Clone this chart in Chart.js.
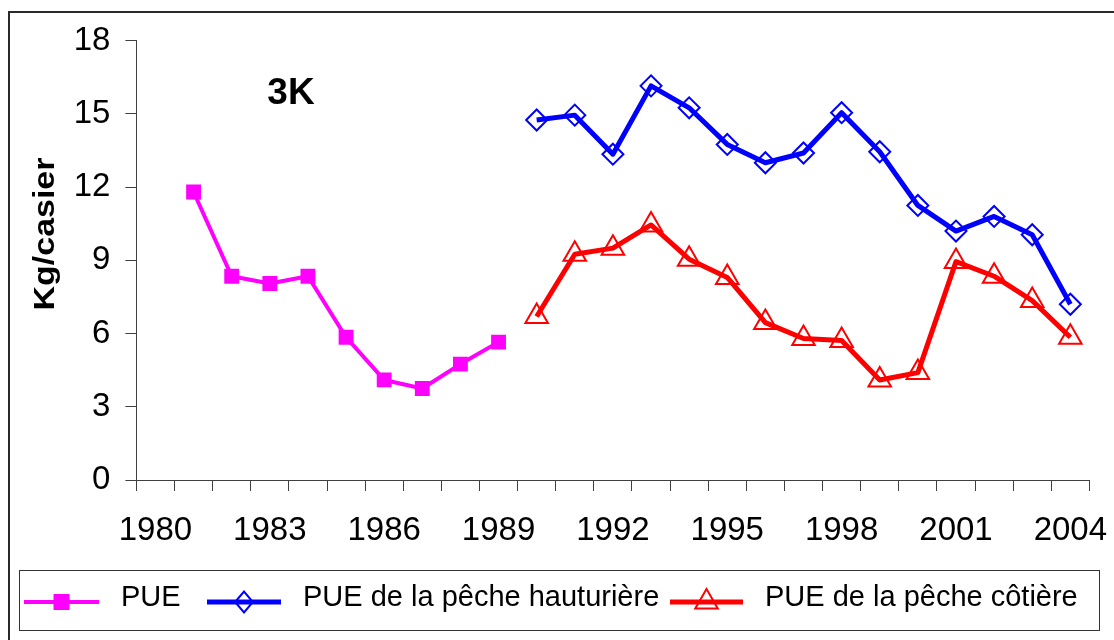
<!DOCTYPE html>
<html>
<head>
<meta charset="utf-8">
<script src="https://cdn.jsdelivr.net/npm/chart.js@4.4.1/dist/chart.umd.min.js"></script>
<style>
  html, body { margin: 0; padding: 0; background: #fff; overflow: hidden; }
  #wrap { position: relative; width: 1114px; height: 640px; }
  #frame { position: absolute; left: 8px; top: 11px; width: 1130px; height: 660px; border-left: 2px solid #2a2a2a; border-top: 2px solid #2a2a2a; box-sizing: border-box; pointer-events: none; }
  canvas { position: absolute; left: 0; top: 0; }
</style>
</head>
<body>
<div id="wrap">
  <canvas id="c" width="1114" height="640"></canvas>
  <div id="frame"></div>
</div>
<script>
const years = ['1980','1981','1982','1983','1984','1985','1986','1987','1988','1989','1990','1991','1992','1993','1994','1995','1996','1997','1998','1999','2000','2001','2002','2003','2004'];
const pue = [null, 11.8, 8.35, 8.05, 8.35, 5.85, 4.1, 3.75, 4.75, 5.65, null, null, null, null, null, null, null, null, null, null, null, null, null, null, null];
const pueHauturiere = [null, null, null, null, null, null, null, null, null, null, 14.75, 14.95, 13.35, 16.15, 15.25, 13.75, 13.0, 13.4, 15.05, 13.45, 11.25, 10.2, 10.8, 10.05, 7.2];
const pueCotiere = [null, null, null, null, null, null, null, null, null, null, 6.7, 9.25, 9.5, 10.45, 9.05, 8.3, 6.45, 5.8, 5.72, 4.1, 4.4, 8.95, 8.35, 7.35, 5.85];
const yTicks = [0, 3, 6, 9, 12, 15, 18];
const seriesNames = ['PUE', 'PUE de la pêche hauturière', 'PUE de la pêche côtière'];
const yTitle = 'Kg/casier';
const panelLabel = '3K';

const FONT = '"Liberation Sans", Arial, Helvetica, sans-serif';
const AXIS = '#404040';
const MAGENTA = '#FF00FF', BLUE = '#0000FF', RED = '#FF0000';

function drawMarker(ctx, style, x, y, r, stroke, fill, lw) {
  ctx.save();
  ctx.beginPath();
  if (style === 'rect') {
    const s = r * Math.SQRT1_2;
    ctx.rect(x - s, y - s, 2 * s, 2 * s);
  } else if (style === 'rectRot') {
    ctx.moveTo(x - r * 0.85, y); ctx.lineTo(x, y - r); ctx.lineTo(x + r * 0.85, y); ctx.lineTo(x, y + r); ctx.closePath();
  } else if (style === 'triangle') {
    const a = Math.PI * 2 / 3;
    ctx.moveTo(x, y - r);
    ctx.lineTo(x + Math.sin(a) * r, y - Math.cos(a) * r);
    ctx.lineTo(x + Math.sin(2 * a) * r, y - Math.cos(2 * a) * r);
    ctx.closePath();
  }
  if (fill) { ctx.fillStyle = fill; ctx.fill(); }
  if (lw) { ctx.lineWidth = lw; ctx.strokeStyle = stroke; ctx.stroke(); }
  ctx.restore();
}

const decor = {
  id: 'decor',
  afterDraw(chart) {
    const ctx = chart.ctx;
    ctx.save();
    // panel label
    ctx.fillStyle = '#000';
    ctx.font = 'bold 37px ' + FONT;
    ctx.textAlign = 'center';
    ctx.textBaseline = 'alphabetic';
    ctx.fillText(panelLabel, 291, 104);
    // y title (stretched like the original)
    ctx.save();
    ctx.translate(54, 234);
    ctx.rotate(-Math.PI / 2);
    ctx.scale(1.17, 1);
    ctx.font = 'bold 29px ' + FONT;
    ctx.textAlign = 'center';
    ctx.fillText(yTitle, 0, 0);
    ctx.restore();
    // legend box
    ctx.strokeStyle = '#333';
    ctx.lineWidth = 1;
    ctx.strokeRect(19.5, 570.5, 1080, 60);
    const items = [
      { x1: 24, x2: 99, c: MAGENTA, lw: 4, m: 'rect', r: 11.3, fill: MAGENTA, mlw: 0, tx: 121 },
      { x1: 207, x2: 281, c: BLUE, lw: 5, m: 'rectRot', r: 10.5, fill: null, mlw: 2, tx: 303 },
      { x1: 670, x2: 743, c: RED, lw: 5, m: 'triangle', r: 13, fill: null, mlw: 2, tx: 765 }
    ];
    const ly = 602;
    items.forEach((it, i) => {
      ctx.beginPath();
      ctx.moveTo(it.x1, ly); ctx.lineTo(it.x2, ly);
      ctx.strokeStyle = it.c; ctx.lineWidth = it.lw; ctx.stroke();
      drawMarker(ctx, it.m, (it.x1 + it.x2) / 2, ly, it.r, it.c, it.fill, it.mlw);
      ctx.fillStyle = '#000';
      ctx.font = '29px ' + FONT;
      ctx.textAlign = 'left';
      ctx.textBaseline = 'alphabetic';
      ctx.fillText(seriesNames[i], it.tx, 606);
    });
    ctx.restore();
  }
};

new Chart(document.getElementById('c'), {
  type: 'line',
  data: {
    labels: years,
    datasets: [
      { label: seriesNames[0], data: pue, borderColor: MAGENTA, backgroundColor: MAGENTA, borderWidth: 4,
        pointStyle: 'rect', pointRadius: 10.5, pointBackgroundColor: MAGENTA, pointBorderColor: MAGENTA, pointBorderWidth: 0,
        borderJoinStyle: 'round', tension: 0, spanGaps: false },
      { label: seriesNames[1], data: pueHauturiere, borderColor: BLUE, backgroundColor: BLUE, borderWidth: 5,
        pointStyle: 'rectRot', pointRadius: 10.5, pointBackgroundColor: 'rgba(0,0,0,0)', pointBorderColor: BLUE, pointBorderWidth: 2,
        borderJoinStyle: 'round', tension: 0, spanGaps: false },
      { label: seriesNames[2], data: pueCotiere, borderColor: RED, backgroundColor: RED, borderWidth: 5,
        pointStyle: 'triangle', pointRadius: 13, pointBackgroundColor: 'rgba(0,0,0,0)', pointBorderColor: RED, pointBorderWidth: 2,
        borderJoinStyle: 'round', tension: 0, spanGaps: false }
    ]
  },
  options: {
    responsive: false,
    animation: false,
    devicePixelRatio: 1,
    layout: { padding: { left: 0, right: 24.6, top: 40.7, bottom: 0 } },
    plugins: { legend: { display: false }, tooltip: { enabled: false }, title: { display: false } },
    elements: { point: { hoverRadius: 10 } },
    scales: {
      x: {
        type: 'category',
        offset: true,
        grid: { offset: true, drawOnChartArea: false, drawTicks: true, tickLength: 11, color: AXIS, lineWidth: 1 },
        border: { display: true, color: AXIS, width: 1 },
        ticks: {
          autoSkip: false, maxRotation: 0, minRotation: 0, padding: 20, color: '#000',
          font: { family: FONT, size: 33 },
          callback: function (v, i) { return i % 3 === 0 ? this.getLabelForValue(v) : ''; }
        },
        afterFit: function (s) { s.height = 160; s.paddingLeft = 0; s.paddingRight = 0; }
      },
      y: {
        min: 0, max: 18,
        afterBuildTicks: function (s) { s.ticks = yTicks.map(v => ({ value: v })); },
        grid: { drawOnChartArea: false, drawTicks: true, tickLength: 11, color: AXIS, lineWidth: 1 },
        border: { display: true, color: AXIS, width: 1 },
        ticks: { padding: 15, color: '#000', font: { family: FONT, size: 33 } },
        afterFit: function (s) { s.width = 136.4; s.paddingTop = 0; s.paddingBottom = 0; }
      }
    }
  },
  plugins: [decor]
});
</script>
</body>
</html>
